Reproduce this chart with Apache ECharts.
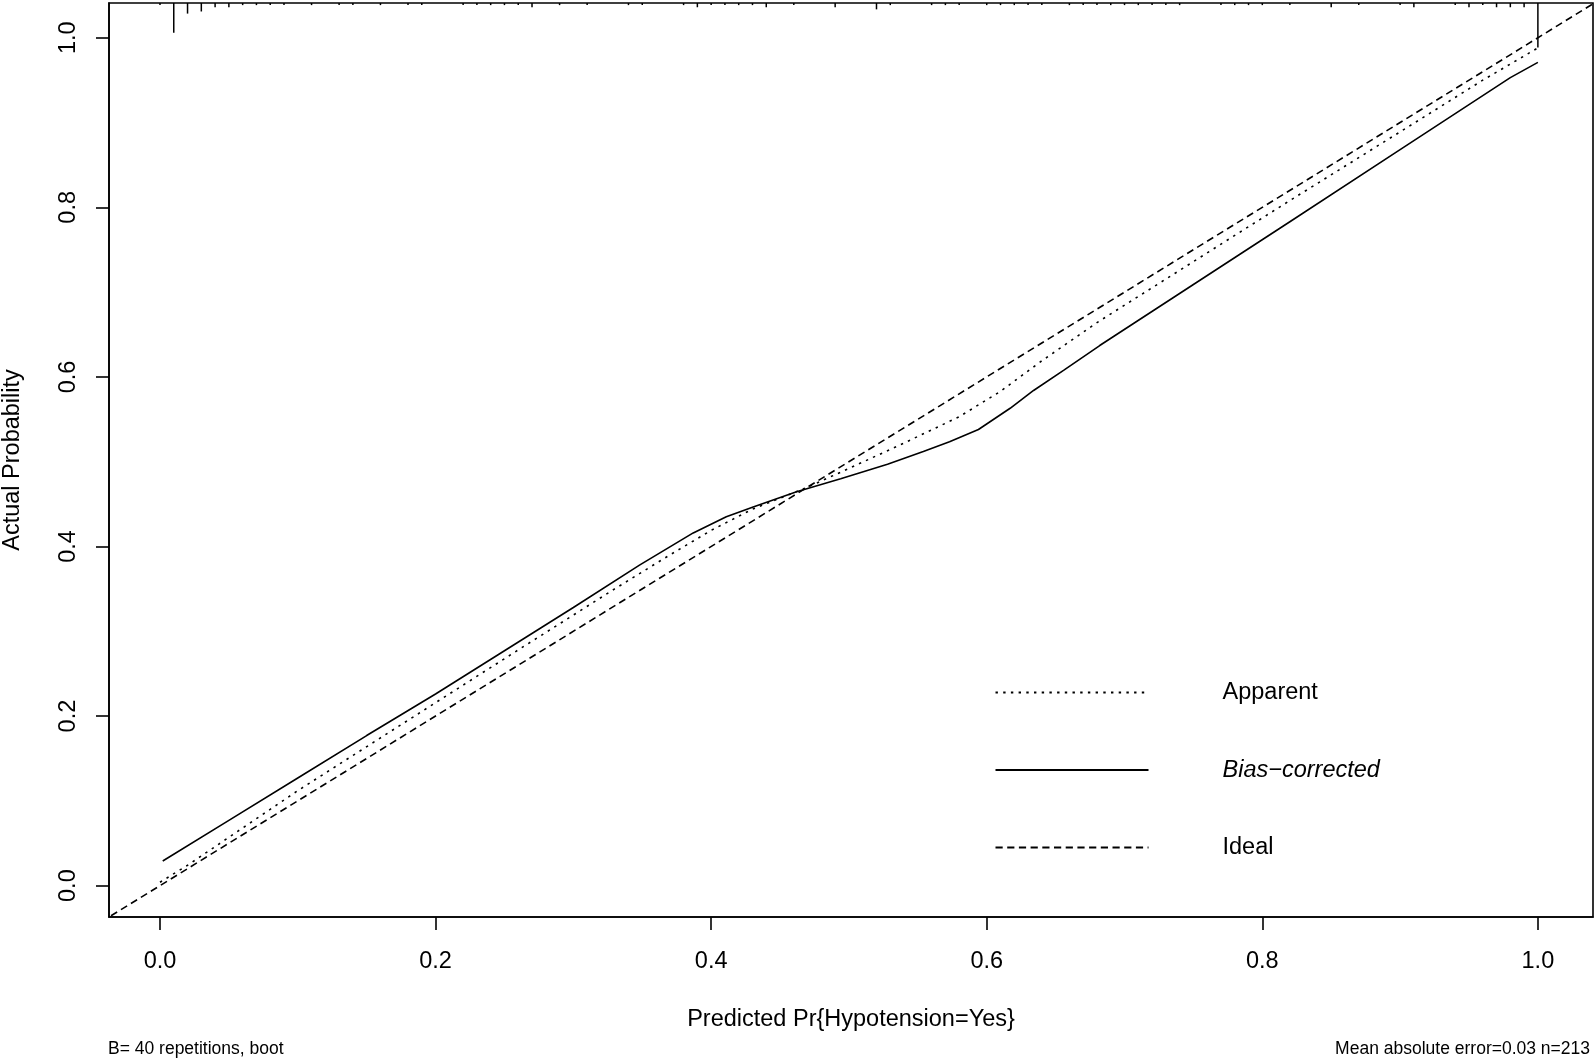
<!DOCTYPE html>
<html><head><meta charset="utf-8">
<script src="https://cdn.jsdelivr.net/npm/echarts@6/dist/echarts.min.js"></script>
<style>html,body{margin:0;padding:0;background:#fff}#c{width:1596px;height:1058px}</style>
</head><body><div id="c"></div>
<script>
// ---- data ----
const xTicks = [0, 0.2, 0.4, 0.6, 0.8, 1.0];
const yTicks = [0, 0.2, 0.4, 0.6, 0.8, 1.0];

const seriesNames = ['Apparent', 'Bias\u2212corrected', 'Ideal'];

const apparentX = [0.0, 0.02, 0.10, 0.18, 0.26, 0.33, 0.37, 0.40, 0.43, 0.47, 0.50, 0.54, 0.58, 0.61, 0.64, 0.68, 0.75, 0.82, 0.90, 0.96, 1.0];
const apparentY = [0.004, 0.024, 0.112, 0.195, 0.278, 0.350, 0.390, 0.419, 0.444, 0.470, 0.492, 0.522, 0.553, 0.583, 0.619, 0.664, 0.736, 0.808, 0.889, 0.950, 0.988];

const biasX = [0.002, 0.05, 0.10, 0.15, 0.20, 0.25, 0.30, 0.348, 0.387, 0.411, 0.431, 0.462, 0.494, 0.528, 0.554, 0.573, 0.594, 0.617, 0.634, 0.656, 0.682, 0.75, 0.82, 0.90, 0.98, 1.0];
const biasY = [0.029, 0.077, 0.127, 0.177, 0.226, 0.277, 0.328, 0.378, 0.416, 0.435, 0.447, 0.4645, 0.480, 0.497, 0.512, 0.5235, 0.538, 0.563, 0.584, 0.608, 0.637, 0.709, 0.783, 0.868, 0.953, 0.971];

const idealX = [-0.05, 1.05];
const idealY = [-0.05, 1.05];

// spike histogram of predicted probabilities (top rug): value and relative frequency
const rugX = [0.00,0.01,0.02,0.03,0.04,0.05,0.06,0.07,0.08,0.09,0.11,0.13,0.14,0.16,0.18,0.19,0.22,0.23,0.24,0.25,0.26,0.27,0.29,0.31,
              0.34,0.35,0.38,0.39,0.40,0.41,0.42,0.43,0.44,0.46,0.49,0.52,0.53,0.56,0.57,0.58,0.60,0.61,0.62,0.63,0.64,0.66,0.67,0.68,
              0.69,0.70,0.71,0.72,0.73,0.74,0.77,0.78,0.79,0.80,0.82,0.85,0.87,0.90,0.91,0.94,0.95,0.96,0.97,0.98,0.99,1.00];
const rugN = [1,14,5,4,2,2,1,1,1,1,1,1,1,1,1,1,1,1,1,1,1,2,1,1,
              1,1,1,2,1,1,1,1,2,1,2,3,1,1,1,1,1,1,1,1,1,1,1,1,
              1,1,1,1,1,1,1,1,1,1,1,2,1,1,2,1,2,1,2,2,2,21];

const footLeft = 'B= 40 repetitions, boot';
const footRight = 'Mean absolute error=0.03 n=213';
const xTitle = 'Predicted Pr{Hypotension=Yes}';
const yTitle = 'Actual Probability';

// ---- chart ----
const FONT = "'Liberation Sans', Arial, Helvetica, sans-serif";
const X_MIN = -0.037, X_MAX = 1.04, Y_MIN = -0.037, Y_MAX = 1.041;
const RUG_UNIT = 0.0025;
const zip = (a, b) => a.map((v, i) => [v, b[i]]);

const chart = echarts.init(document.getElementById('c'), null, {renderer: 'canvas'});
const lw = 1.6;
chart.setOption({
  backgroundColor: '#fff',
  animation: false,
  grid: {left: 109, right: 3, top: 3, bottom: 141, show: true, borderColor: '#000', borderWidth: lw,
         backgroundColor: 'transparent', containLabel: false, outerBoundsMode: 'none'},
  xAxis: {
    type: 'value', min: X_MIN, max: X_MAX,
    splitLine: {show: false},
    axisLine: {show: true, onZero: false, lineStyle: {color: '#000', width: lw}},
    axisTick: {show: true, customValues: xTicks, length: 13, lineStyle: {color: '#000', width: lw}},
    axisLabel: {customValues: xTicks, formatter: v => v.toFixed(1), margin: 33, fontSize: 23.5, color: '#000', fontFamily: FONT},
    name: xTitle, nameLocation: 'middle', nameGap: 91,
    nameTextStyle: {fontSize: 23.5, color: '#000', fontFamily: FONT}
  },
  yAxis: {
    type: 'value', min: Y_MIN, max: Y_MAX,
    splitLine: {show: false},
    axisLine: {show: true, onZero: false, lineStyle: {color: '#000', width: lw}},
    axisTick: {show: true, customValues: yTicks, length: 13, lineStyle: {color: '#000', width: lw}},
    axisLabel: {customValues: yTicks, formatter: v => v.toFixed(1), rotate: 90, margin: 28, fontSize: 23.5, color: '#000', fontFamily: FONT},
    name: yTitle, nameLocation: 'middle', nameGap: 84,
    nameTextStyle: {fontSize: 23.5, color: '#000', fontFamily: FONT}
  },
  legend: {
    data: seriesNames, orient: 'vertical', left: 994.5, top: 680.5, padding: 0,
    itemWidth: 153, itemHeight: 24, itemGap: 53.5, selectedMode: false,
    itemStyle: {color: 'rgba(0,0,0,0)', borderWidth: 0, opacity: 0},
    formatter: n => n === seriesNames[1] ? '{i|' + n + '}' : n,
    textStyle: {fontSize: 23.5, lineHeight: 24, color: '#000', fontFamily: FONT, padding: [0, 0, 0, 69],
      rich: {i: {fontStyle: 'italic', fontSize: 23.5, lineHeight: 24, color: '#000', fontFamily: FONT}}}
  },
  graphic: [
    {type: 'text', left: 108, top: 1040, style: {text: footLeft, fontSize: 17.5, fill: '#000', fontFamily: FONT}},
    {type: 'text', right: 6, top: 1040, style: {text: footRight, fontSize: 17.5, fill: '#000', fontFamily: FONT}}
  ],
  series: [
    {name: seriesNames[0], type: 'line', data: zip(apparentX, apparentY), symbol: 'none', smooth: false,
     lineStyle: {color: '#000', width: lw, type: [2.4, 5.3]}, itemStyle: {color: '#000'}},
    {name: seriesNames[1], type: 'line', data: zip(biasX, biasY), symbol: 'none', smooth: false,
     lineStyle: {color: '#000', width: lw, type: 'solid'}, itemStyle: {color: '#000'}},
    {name: seriesNames[2], type: 'line', data: zip(idealX, idealY), symbol: 'none', smooth: false, clip: true,
     lineStyle: {color: '#000', width: lw, type: [7.2, 4.5]}, itemStyle: {color: '#000'}},
    {name: 'rug', type: 'custom', clip: false, silent: true,
     data: zip(rugX, rugN),
     renderItem: (params, api) => {
       const x = api.value(0), n = api.value(1);
       const p1 = api.coord([x, Y_MAX]);
       const p2 = api.coord([x, Y_MAX - n * RUG_UNIT]);
       return {type: 'line', shape: {x1: p1[0], y1: p1[1], x2: p2[0], y2: p2[1]}, style: {stroke: '#000', lineWidth: 1.5}};
     }}
  ]
});
</script></body></html>
